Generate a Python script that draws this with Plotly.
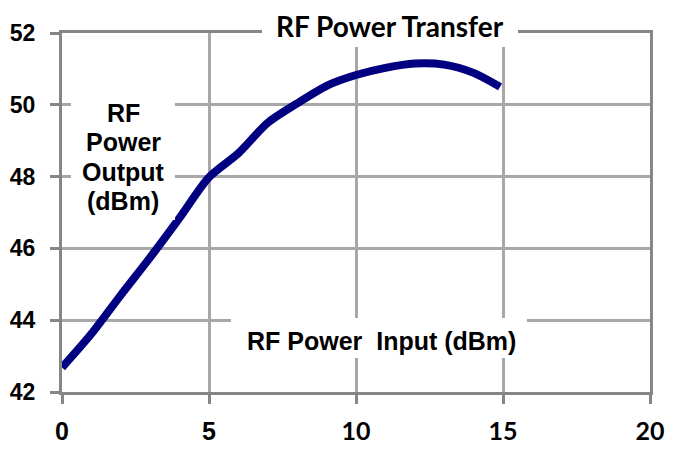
import plotly.graph_objects as go

input_dbm = [0, 1, 2, 3, 4, 5, 6, 7, 8, 9, 10, 11, 12, 13, 14, 14.9]
output_dbm = [42.68, 43.62, 44.7, 45.75, 46.85, 47.98, 48.65, 49.5, 50.04,
              50.53, 50.83, 51.03, 51.15, 51.12, 50.89, 50.5]

x_tickvals = [0, 5, 10, 15, 20]
x_ticktext = ["0", "5",
              '<span style="font-family:Lato">10</span>',
              '<span style="font-family:Lato">15</span>',
              '<span style="font-family:Lato">20</span>']
y_tickvals = [42, 44, 46, 48, 50, 52]
y_ticktext = ["42", "44", "46", "48", "50", "52"]

title_text = "RF Power Transfer"
x_title = "RF Power  Input (dBm)"
y_title_lines = ["RF", "Power", "Output", "(dBm)"]

AXIS = "#868686"
GRID = "#a8a8a8"
OFF = 8  # page body margin
L, R, T, B = 62 - OFF, 25, 33 - OFF, 58
W, H = 675 - OFF, 450 - OFF
PW, PH = W - L - R, H - T - B


def px(xs):
    return (xs - OFF - L) / PW


def py(ys):
    return (H - B - (ys - OFF)) / PH


fig = go.Figure()
fig.add_trace(go.Scatter(
    x=input_dbm, y=output_dbm, mode="lines",
    line=dict(color="#000080", width=8, shape="spline", smoothing=0.8),
    showlegend=False, hoverinfo="skip",
))

fig.update_layout(
    width=W, height=H,
    margin=dict(l=L, r=R, t=T, b=B),
    paper_bgcolor="white", plot_bgcolor="white",
    showlegend=False,
    xaxis=dict(
        range=[0, 20], tickvals=x_tickvals, ticktext=x_ticktext,
        showgrid=True, gridcolor=GRID, gridwidth=3,
        showline=True, linecolor=AXIS, linewidth=3, mirror=True,
        ticks="outside", ticklen=9, tickwidth=3, tickcolor=AXIS,
        zeroline=False, automargin=False, ticklabelstandoff=6,
        tickfont=dict(family="Liberation Sans, Arial", size=25, color="black", weight="bold"),
    ),
    yaxis=dict(
        range=[42, 52], tickvals=y_tickvals, ticktext=y_ticktext,
        showgrid=True, gridcolor=GRID, gridwidth=3,
        showline=True, linecolor=AXIS, linewidth=3, mirror=True,
        ticks="outside", ticklen=9, tickwidth=3, tickcolor=AXIS,
        zeroline=False, automargin=False, ticklabelstandoff=10,
        tickfont=dict(family="Liberation Sans, Arial", size=23, color="black", weight="bold"),
    ),
)

# white boxes behind the in-plot labels (cover gridlines), screen pixels
boxes = [(262, 518, 10, 47), (231, 527, 318, 358), (71, 175, 95, 220)]
for x0, x1, y0, y1 in boxes:
    fig.add_shape(type="rect", xref="paper", yref="paper",
                  x0=px(x0), x1=px(x1), y0=py(y1), y1=py(y0),
                  fillcolor="white", line=dict(width=0), layer="above")

fig.add_annotation(
    text=title_text, xref="paper", yref="paper", x=px(390), y=py(26),
    xanchor="center", yanchor="middle", showarrow=False,
    font=dict(family="Lato", size=28, color="black", weight="bold"),
)
fig.add_annotation(
    text=x_title, xref="paper", yref="paper", x=px(381), y=py(341),
    xanchor="center", yanchor="middle", showarrow=False,
    font=dict(family="Liberation Sans, Arial", size=25, color="black", weight="bold"),
)
for i, line in enumerate(y_title_lines):
    fig.add_annotation(
        text=line, xref="paper", yref="paper", x=px(123), y=py(113 + 29.3 * i),
        xanchor="center", yanchor="middle", showarrow=False,
        font=dict(family="Liberation Sans, Arial", size=25, color="black", weight="bold"),
    )

fig.write_html("out.html")
